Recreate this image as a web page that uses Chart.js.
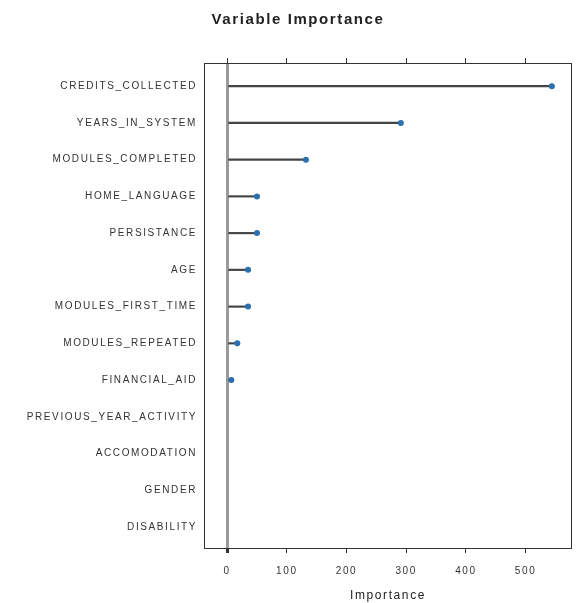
<!DOCTYPE html>
<html>
<head>
<meta charset="utf-8">
<script src="https://cdn.jsdelivr.net/npm/chart.js@4/dist/chart.umd.min.js"></script>
<style>
  html, body { margin: 0; padding: 0; background: #fff; }
  #wrap { width: 576px; height: 603px; }
</style>
</head>
<body>
<div id="wrap"><canvas id="vipChart" width="576" height="603"></canvas></div>
<script>
// Data dari gambar
const variables = ['CREDITS_COLLECTED', 'YEARS_IN_SYSTEM', 'MODULES_COMPLETED', 'HOME_LANGUAGE',
    'PERSISTANCE', 'AGE', 'MODULES_FIRST_TIME', 'MODULES_REPEATED', 'FINANCIAL_AID',
    'PREVIOUS_YEAR_ACTIVITY', 'ACCOMODATION', 'GENDER', 'DISABILITY'];
const importance = [544, 291, 132, 50, 50, 35, 35, 17, 7, null, null, null, null];
const xTicks = [0, 100, 200, 300, 400, 500];

const points = importance.map((v, i) => ({ x: v, y: i })).filter(p => p.x !== null);

// teks di gambar asli agak melebar, jadi pakai letterSpacing
const spacingPlugin = {
    id: 'spacing',
    beforeDraw(chart) { chart.ctx.letterSpacing = '1.6px'; }
};

// kotak di sekitar area plot
const boxPlugin = {
    id: 'box',
    afterDraw(chart) {
        const a = chart.chartArea, c = chart.ctx;
        c.save();
        c.strokeStyle = '#333';
        c.lineWidth = 1;
        c.strokeRect(Math.round(a.left) + 0.5, Math.round(a.top) + 0.5,
            Math.round(a.right - a.left) - 1, Math.round(a.bottom - a.top));
        c.restore();
    }
};

document.addEventListener("DOMContentLoaded", function () {
    const ctx = document.getElementById('vipChart').getContext('2d');
    new Chart(ctx, {
        type: 'bar',
        data: {
            datasets: [{
                type: 'bar',
                data: points,
                backgroundColor: '#444',
                borderWidth: 0,
                barThickness: 1.5,
                order: 2
            }, {
                type: 'scatter',
                data: points,
                pointRadius: 3,
                pointBackgroundColor: '#2a6fae',
                pointBorderWidth: 0,
                order: 1
            }]
        },
        plugins: [spacingPlugin, boxPlugin],
        options: {
            responsive: false,
            animation: false,
            indexAxis: 'y',
            layout: { padding: { left: 22, right: 2, top: 0, bottom: 0 } },
            plugins: {
                legend: { display: false },
                tooltip: { enabled: false },
                title: {
                    display: true,
                    text: 'Variable Importance',
                    color: '#222',
                    font: { family: 'Liberation Sans', size: 15, weight: 'bold' },
                    padding: { top: 11, bottom: 27 }
                }
            },
            scales: {
                x: {
                    type: 'linear',
                    position: 'bottom',
                    min: -38.8,
                    max: 577.8,
                    afterBuildTicks: axis => { axis.ticks = xTicks.map(v => ({ value: v })); },
                    afterFit: axis => { axis.height = 55; },
                    border: { display: false },
                    grid: {
                        drawOnChartArea: true,
                        drawTicks: true,
                        tickLength: 5,
                        color: c => c.tick && c.tick.value === 0 ? '#9a9a9a' : 'rgba(0,0,0,0)',
                        lineWidth: c => c.tick && c.tick.value === 0 ? 3 : 1,
                        tickColor: '#333'
                    },
                    ticks: {
                        color: '#333',
                        padding: 12,
                        maxRotation: 0,
                        font: { family: 'Liberation Sans', size: 10 }
                    },
                    title: {
                        display: true,
                        text: 'Importance',
                        color: '#222',
                        font: { family: 'Liberation Sans', size: 12 },
                        padding: { top: 4, bottom: 0 }
                    }
                },
                xTop: {
                    type: 'linear',
                    position: 'top',
                    min: -38.8,
                    max: 577.8,
                    afterBuildTicks: axis => { axis.ticks = xTicks.map(v => ({ value: v })); },
                    afterFit: axis => { axis.height = 7; },
                    border: { display: false },
                    grid: { drawOnChartArea: false, tickLength: 5, color: '#333' },
                    ticks: { display: false }
                },
                y: {
                    type: 'linear',
                    reverse: true,
                    offset: false,
                    min: -0.63,
                    max: 12.57,
                    afterBuildTicks: axis => { axis.ticks = variables.map((_, i) => ({ value: i })); },
                    afterFit: axis => { axis.width = 182; },
                    border: { display: false },
                    grid: { display: false, drawTicks: false, offset: false },
                    ticks: {
                        color: '#333',
                        padding: 7,
                        font: { family: 'Liberation Sans', size: 10 },
                        callback: v => variables[v]
                    }
                }
            }
        }
    });
});
</script>
</body>
</html>
